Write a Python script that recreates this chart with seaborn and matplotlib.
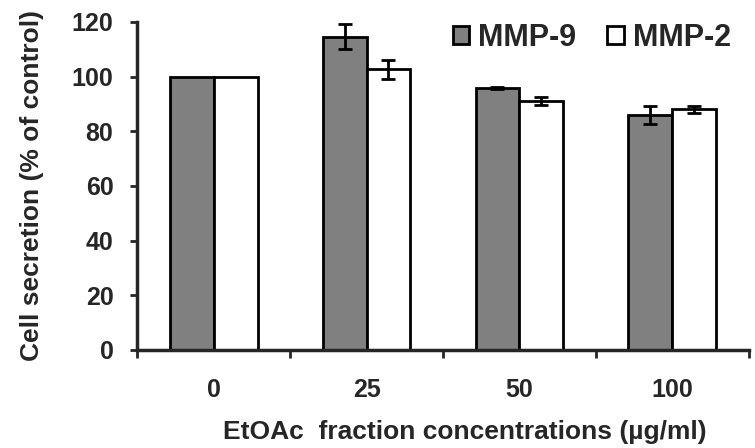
import pandas as pd
import matplotlib.pyplot as plt
import seaborn as sns

# values
concentrations = ['0', '25', '50', '100']
mmp9 = [100.0, 114.6, 95.8, 86.0]
mmp9_err = [0.0, 4.5, 0.3, 3.2]
mmp2 = [100.0, 102.7, 91.0, 88.0]
mmp2_err = [0.0, 3.5, 1.4, 1.2]
series = ['MMP-9', 'MMP-2']
colors = ['#808080', '#ffffff']

df = pd.DataFrame({
    'conc': concentrations * 2,
    'value': mmp9 + mmp2,
    'err': mmp9_err + mmp2_err,
    'series': [series[0]] * 4 + [series[1]] * 4,
})

sns.set_style('ticks')
plt.rcParams['font.family'] = ['Liberation Sans', 'DejaVu Sans']
plt.rcParams['font.weight'] = 'bold'

fig = plt.figure(figsize=(7.55, 4.48), dpi=100)
ax = fig.add_axes([0.1815, 0.2188, 0.8105, 0.7321])

sns.barplot(data=df, x='conc', y='value', hue='series', order=concentrations,
            hue_order=series, palette=colors, width=0.575, gap=0,
            edgecolor='black', linewidth=2, errorbar=None, saturation=1, ax=ax)

# error bars at the bar centres that seaborn laid out
for patch, (_, row) in zip(ax.patches, df.iterrows()):
    if row['err'] > 0:
        xc = patch.get_x() + patch.get_width() / 2
        ax.errorbar(xc, patch.get_height(), yerr=row['err'], fmt='none',
                    ecolor='black', elinewidth=2, capsize=5, capthick=2)

ax.set_ylim(0, 120)
ax.set_yticks(range(0, 121, 20))
ax.set_xlim(-0.5, 3.5)
ax.set_xticks([-0.5, 0.5, 1.5, 2.5, 3.5])
ax.set_xticklabels([])
ax.set_xticks(range(4), concentrations, minor=True)
ax.tick_params(axis='x', which='major', direction='out', length=6, width=2)
ax.tick_params(axis='x', which='minor', length=0, pad=20, labelsize=18)
ax.tick_params(axis='y', direction='out', length=5, width=2, pad=12, labelsize=18)
for lbl in ax.get_xticklabels(minor=True) + ax.get_yticklabels():
    lbl.set_fontweight('bold')

for side in ['top', 'right']:
    ax.spines[side].set_visible(False)
for side in ['left', 'bottom']:
    ax.spines[side].set_linewidth(2.5)

ax.set_xlabel('EtOAc  fraction concentrations (µg/ml)', fontsize=19, fontweight='bold')
ax.set_ylabel('Cell secretion (% of control)', fontsize=19, fontweight='bold')
ax.xaxis.set_label_coords(0.536, -0.215)
ax.yaxis.set_label_coords(-0.152, 0.5)

handles, labels = ax.get_legend_handles_labels()
ax.legend(handles, labels, loc='upper right', bbox_to_anchor=(1.005, 1.01),
          bbox_transform=fig.transFigure, ncol=2, frameon=False,
          prop={'size': 22, 'weight': 'bold'}, handlelength=0.55,
          handleheight=0.55, handletextpad=0.3, columnspacing=1.0)

fig.savefig('out.png', dpi=100)
